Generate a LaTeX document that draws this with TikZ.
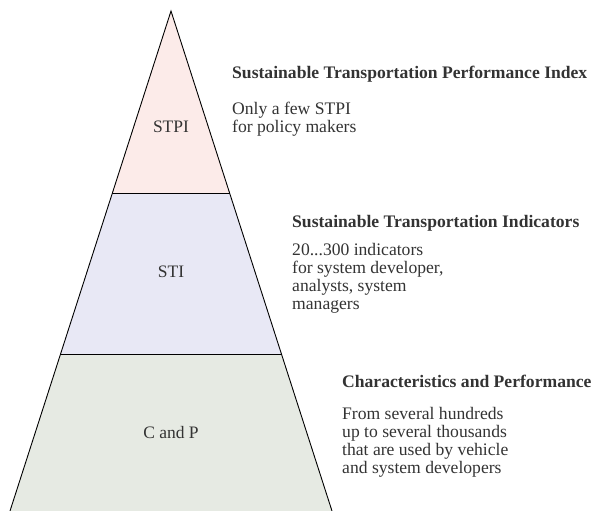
\documentclass[tikz,border=0pt]{standalone}
\usepackage{fontspec}
\setmainfont{Liberation Serif}
\definecolor{toppink}{HTML}{FCEBE9}
\definecolor{midlav}{HTML}{E8E8F5}
\definecolor{botgreen}{HTML}{E6EAE3}
\definecolor{txt}{HTML}{333333}
\begin{document}
\begin{tikzpicture}[x=1pt,y=-1pt,
  tier/.style={draw=black,line width=0.9pt,line join=miter},
  tierlabel/.style={text=txt,font=\fontsize{17.5}{18}\selectfont,inner sep=0pt},
  heading/.style={text=txt,font=\fontsize{17.6}{18}\selectfont\bfseries,anchor=base west,inner sep=0pt},
  desc/.style={text=txt,font=\fontsize{17.6}{18.2}\selectfont,anchor=base west,align=left,inner sep=0pt}]
\useasboundingbox (0,0) rectangle (594,511);
\coordinate (apex) at (171,11);
\coordinate (l1) at (112.4,193); \coordinate (r1) at (229.6,193);
\coordinate (l2) at (60.6,354); \coordinate (r2) at (281.4,354);
\coordinate (bl) at (10,511); \coordinate (br) at (332,511);
\fill[toppink] (apex) -- (r1) -- (l1) -- cycle;
\fill[midlav] (l1) -- (r1) -- (r2) -- (l2) -- cycle;
\fill[botgreen] (l2) -- (r2) -- (br) -- (bl) -- cycle;
\draw[tier] (bl) -- (apex) -- (br);
\draw[tier] (l1) -- (r1);
\draw[tier] (l2) -- (r2);
\node[tierlabel] (stpi) at (171,127) {STPI};
\node[tierlabel] (sti) at (171,272) {STI};
\node[tierlabel] (cp) at (171,433) {C and P};
\node[heading] (h1) at (232,78) {Sustainable Transportation Performance Index};
% desc nodes: anchor base = baseline of the last line
\node[desc] (d1) at (232,132.2) {Only a few STPI\\for policy makers};
\node[heading] (h2) at (292,227) {Sustainable Transportation Indicators};
\node[desc] (d2) at (292,309.6) {20...300 indicators\\for system developer,\\analysts, system\\managers};
\node[heading] (h3) at (342,387) {Characteristics and Performance};
\node[desc] (d3) at (342,473.6) {From several hundreds\\up to several thousands\\that are used by vehicle\\and system developers};
\end{tikzpicture}
\end{document}
